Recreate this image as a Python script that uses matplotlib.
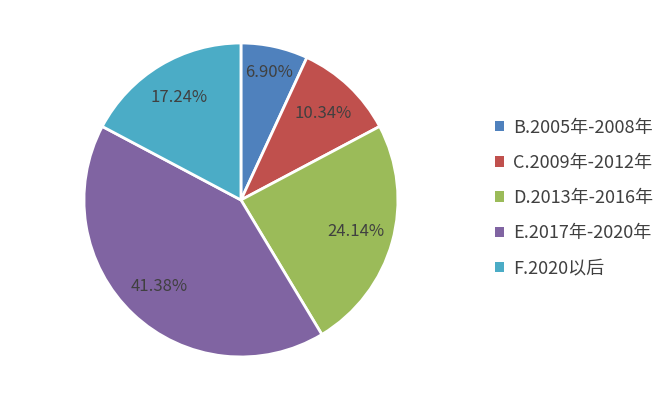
import matplotlib
matplotlib.use("Agg")
import numpy as np
import matplotlib.pyplot as plt
from matplotlib.patches import Patch

plt.rcParams['font.family'] = ['Noto Sans CJK SC', 'DejaVu Sans']

# 数据
categories = ['B.2005年-2008年', 'C.2009年-2012年', 'D.2013年-2016年',
              'E.2017年-2020年', 'F.2020以后']
shares = [6.90, 10.34, 24.14, 41.38, 17.24]
colors = ['#4F81BD', '#C0504D', '#9BBB59', '#8064A2', '#4BACC6']

fig = plt.figure(figsize=(6.68, 3.96), dpi=100)
ax = fig.add_axes([0.1257, 0.0985, 0.470, 0.793])

wedges, texts, autotexts = ax.pie(
    shares, colors=colors, startangle=90, counterclock=False,
    autopct=lambda p: f"{p:.2f}%", pctdistance=0.76,
    wedgeprops=dict(edgecolor='white', linewidth=2),
    textprops=dict(color='#404040', fontsize=12),
)
ax.set_xlim(-1, 1)
ax.set_ylim(-1, 1)
ax.set_aspect('equal')

# 第一个小扇区的标签稍微靠外
theta = np.deg2rad((wedges[0].theta1 + wedges[0].theta2) / 2)
autotexts[0].set_position((0.83 * np.cos(theta), 0.83 * np.sin(theta)))

handles = [Patch(facecolor=c, edgecolor='none') for c in colors]
leg = fig.legend(handles, categories, loc='center left',
                 bbox_to_anchor=(0.717, 0.5), frameon=False,
                 fontsize=13, labelcolor='#404040',
                 handlelength=0.5, handleheight=0.5, handletextpad=0.5,
                 labelspacing=0.95)

fig.savefig('out.png', dpi=100, facecolor='white')
